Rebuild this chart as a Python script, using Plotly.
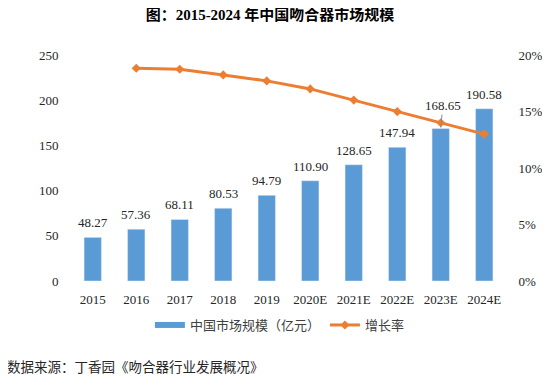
import plotly.graph_objects as go

categories = ["2015", "2016", "2017", "2018", "2019", "2020E", "2021E", "2022E", "2023E", "2024E"]
market_size = [48.27, 57.36, 68.11, 80.53, 94.79, 110.90, 128.65, 147.94, 168.65, 190.58]
growth_cats = categories[1:]
growth_rate = [18.83, 18.74, 18.24, 17.71, 17.00, 16.01, 14.99, 14.00, 13.00]
left_ticks = [0, 50, 100, 150, 200, 250]
right_ticks = [0, 5, 10, 15, 20]

BLUE = "#5B9BD5"
ORANGE = "#ED7D31"
TXT = "#262626"
CLEAR = "rgba(0,0,0,0)"
SERIF = "Liberation Serif, Times New Roman, serif"
CJK = "Noto Sans CJK SC, sans-serif"

OFF = 8  # page body margin
W, H = 550 - OFF, 378 - OFF
# target plot area in screen pixels: x 71..506.5, y 55..281
L = 71 - OFF
T = 55 - OFF
PW = 506.5 - 71
PH = 281 - 55
R = W - L - PW
B = H - T - PH


def py(screen_y):
    return (T + PH - (screen_y - OFF)) / PH


def px(screen_x):
    return (screen_x - OFF - L) / PW


fig = go.Figure()
fig.add_trace(go.Bar(
    x=categories, y=market_size, marker_color=BLUE, showlegend=False,
    yaxis="y"
))
fig.add_trace(go.Scatter(
    x=growth_cats, y=growth_rate, mode="lines+markers", yaxis="y2",
    line=dict(color=ORANGE, width=3), marker=dict(symbol="diamond", size=7, color=ORANGE),
    showlegend=False
))
# legend proxies (no visible data)
fig.add_trace(go.Scatter(
    x=[categories[0]], y=[None], mode="lines", name="中国市场规模（亿元）",
    line=dict(color=BLUE, width=6)
))
fig.add_trace(go.Scatter(
    x=[categories[0]], y=[None], mode="lines+markers", name="增长率", yaxis="y2",
    line=dict(color=ORANGE, width=3), marker=dict(symbol="diamond", size=7, color=ORANGE)
))

annotations = []
for i, (c, v) in enumerate(zip(categories, market_size)):
    if c == "2023E":
        annotations.append(dict(
            x=i, y=v, xref="x", yref="y", text=f"{v:.2f}", showarrow=True,
            arrowhead=0, arrowwidth=1, arrowcolor="#8c8c8c", ax=2, ay=-23,
            font=dict(family=SERIF, size=13, color=TXT), standoff=1
        ))
    else:
        annotations.append(dict(
            x=i, y=v, xref="x", yref="y", text=f"{v:.2f}", showarrow=False,
            yanchor="bottom", yshift=5, font=dict(family=SERIF, size=13, color=TXT)
        ))

annotations.append(dict(
    x=px(5), y=py(366), xref="paper", yref="paper",
    xanchor="left", yanchor="middle",
    text="数据来源：丁香园《吻合器行业发展概况》", showarrow=False,
    font=dict(family=CJK, size=13.5, color=TXT)
))

fig.update_layout(
    width=W, height=H,
    margin=dict(l=L, r=R, t=T, b=B, autoexpand=False),
    paper_bgcolor="white", plot_bgcolor="white",
    title=dict(
        text="<b>图：2015-2024 年中国吻合器市场规模</b>",
        x=(270 - OFF) / W, xanchor="center", y=1 - (15 - OFF) / H, yanchor="middle",
        font=dict(family="Liberation Serif, Noto Sans CJK SC", size=15, color="#000000")
    ),
    bargap=0.6,
    xaxis=dict(
        type="category", categoryorder="array", categoryarray=categories,
        range=[-0.5, len(categories) - 0.5], automargin=False,
        showgrid=False, showline=False, ticks="outside", ticklen=6, tickcolor=CLEAR,
        tickfont=dict(family=SERIF, size=13, color=TXT)
    ),
    yaxis=dict(
        range=[0, 250], tickvals=left_ticks, showgrid=False, zeroline=False,
        showline=False, ticks="outside", ticklen=9, tickcolor=CLEAR, automargin=False,
        tickfont=dict(family=SERIF, size=13, color=TXT)
    ),
    yaxis2=dict(
        range=[0, 20], tickvals=right_ticks, ticktext=[f"{t}%" for t in right_ticks],
        overlaying="y", side="right", showgrid=False, zeroline=False,
        showline=False, ticks="outside", ticklen=9, tickcolor=CLEAR, automargin=False,
        tickfont=dict(family=SERIF, size=13, color=TXT)
    ),
    legend=dict(
        orientation="h", x=px(150), y=py(325),
        xanchor="left", yanchor="middle",
        font=dict(family=CJK, size=13, color="#404040"),
        bgcolor="rgba(0,0,0,0)"
    ),
    annotations=annotations,
    showlegend=True,
)

fig.write_html("out.html")
